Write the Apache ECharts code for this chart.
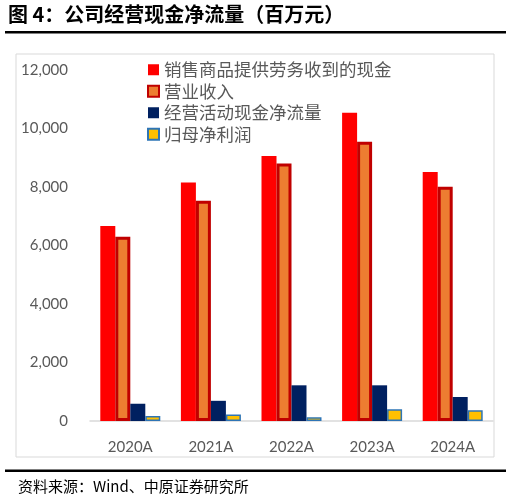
<!DOCTYPE html>
<html>
<head>
<meta charset="utf-8">
<script src="https://cdn.jsdelivr.net/npm/echarts@6/dist/echarts.min.js"></script>
<style>
  html, body { margin: 0; padding: 0; background: #fff; }
  #chart { width: 511px; height: 503px; }
</style>
</head>
<body>
<div id="chart"></div>
<script>
const categories = ['2020A', '2021A', '2022A', '2023A', '2024A'];
const salesCash = [6670, 8150, 9060, 10540, 8510];
const revenue = [6300, 7530, 8800, 9545, 8010];
const opCashFlow = [590, 690, 1220, 1220, 820];
const netProfit = [175, 220, 130, 400, 370];
const yTicks = [0, 2000, 4000, 6000, 8000, 10000, 12000];

const chart = echarts.init(document.getElementById('chart'));
const font = "Lato, 'Noto Sans CJK SC', sans-serif";
const cjk = "'Noto Sans CJK SC', sans-serif";

chart.setOption({
  animation: false,
  backgroundColor: '#fff',
  textStyle: { fontFamily: font },
  graphic: [
    { type: 'text', left: 8, top: 4, style: { text: '图 4：公司经营现金净流量（百万元）', fontSize: 20, fontWeight: 'bold', fill: '#000', fontFamily: cjk } },
    { type: 'rect', shape: { x: 5, y: 31, width: 501, height: 2.5 }, style: { fill: '#000' } },
    { type: 'rect', shape: { x: 16, y: 54, width: 478, height: 403 }, style: { fill: 'none', stroke: '#D9D9D9', lineWidth: 1 } },
    { type: 'rect', shape: { x: 5, y: 469.5, width: 501, height: 2.5 }, style: { fill: '#000' } },
    { type: 'text', left: 18, top: 479, style: { text: '资料来源：Wind、中原证券研究所', fontSize: 15, fill: '#000', fontFamily: cjk } }
  ],
  legend: {
    orient: 'vertical',
    left: 142,
    top: 56,
    icon: 'rect',
    itemWidth: 11,
    itemHeight: 11,
    itemGap: 4,
    textStyle: { fontSize: 17.5, color: '#595959', fontFamily: cjk },
    data: ['销售商品提供劳务收到的现金', '营业收入', '经营活动现金净流量', '归母净利润']
  },
  grid: { left: 90, right: 18, top: 70, bottom: 82 },
  xAxis: {
    type: 'category',
    data: categories,
    axisLine: { lineStyle: { color: '#D9D9D9', width: 1.5 } },
    axisTick: { show: false },
    axisLabel: { fontSize: 15, color: '#595959', margin: 19 }
  },
  yAxis: {
    type: 'value',
    min: yTicks[0],
    max: yTicks[yTicks.length - 1],
    interval: 2000,
    splitLine: { show: false },
    axisLine: { show: false },
    axisTick: { show: false },
    axisLabel: {
      fontSize: 15,
      color: '#595959',
      margin: 22,
      formatter: v => v.toLocaleString('en-US')
    }
  },
  series: [
    {
      name: '销售商品提供劳务收到的现金',
      type: 'bar',
      data: salesCash,
      barWidth: 15,
      barGap: '0%',
      itemStyle: { color: '#FF0000' }
    },
    {
      name: '营业收入',
      type: 'bar',
      data: revenue,
      barWidth: 15,
      barGap: '0%',
      itemStyle: { color: '#ED7D31', borderColor: '#C00000', borderWidth: 3 }
    },
    {
      name: '经营活动现金净流量',
      type: 'bar',
      data: opCashFlow,
      barWidth: 15,
      barGap: '0%',
      itemStyle: { color: '#002060' }
    },
    {
      name: '归母净利润',
      type: 'bar',
      data: netProfit,
      barWidth: 15,
      barGap: '0%',
      itemStyle: { color: '#FFC000', borderColor: '#2E75B6', borderWidth: 1.5 }
    }
  ]
});
</script>
</body>
</html>
